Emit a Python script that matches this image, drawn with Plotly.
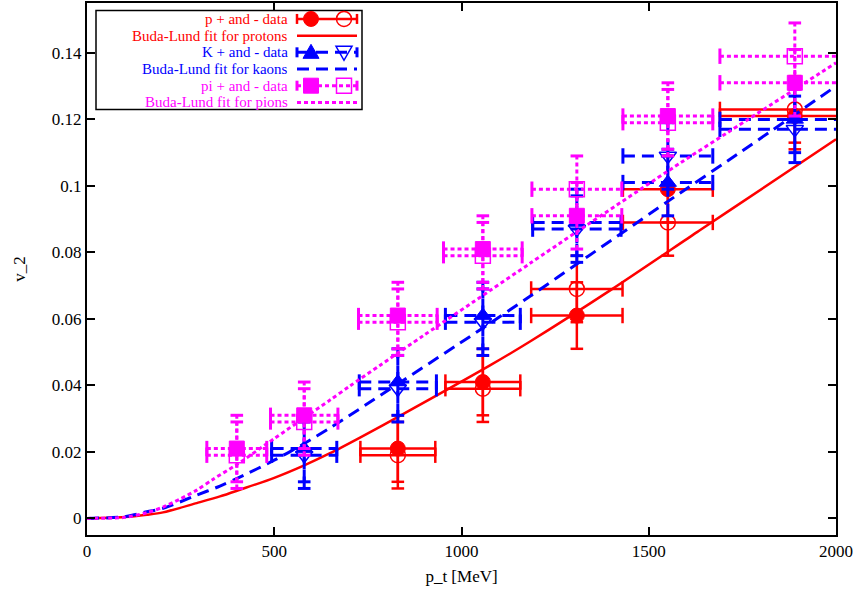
import plotly.graph_objects as go
import numpy as np

# ---------------- data ----------------
# protons
p_x = [830, 1057, 1308, 1551, 1890]
p_xerr = [100, 100, 122, 120, 200]
p_filled = [0.021, 0.041, 0.061, 0.099, 0.121]
p_open = [0.019, 0.039, 0.069, 0.089, 0.123]
p_yerr = [0.01, 0.01, 0.01, 0.01, 0.01]

# kaons
k_x = [580, 830, 1057, 1308, 1551, 1890]
k_xerr = [87, 103, 100, 118, 120, 200]
k_filled = [0.021, 0.041, 0.061, 0.089, 0.101, 0.120]
k_open = [0.019, 0.039, 0.059, 0.087, 0.109, 0.117]
k_yerr = [0.01, 0.01, 0.01, 0.01, 0.01, 0.01]

# pions
pi_x = [400, 580, 830, 1057, 1308, 1551, 1890]
pi_xerr = [80, 90, 105, 105, 120, 120, 200]
pi_filled = [0.021, 0.031, 0.061, 0.081, 0.091, 0.121, 0.131]
pi_open = [0.019, 0.029, 0.059, 0.079, 0.099, 0.119, 0.139]
pi_yerr = [0.01, 0.01, 0.01, 0.01, 0.01, 0.01, 0.01]

# Buda-Lund fit curves
fit_p_pt = [0, 100, 160, 203, 293, 355, 408, 500, 577, 649, 729, 827, 1076, 1183, 1400, 1629, 1717, 2000]
fit_p_v2 = [0, 0.0004, 0.0011, 0.0018, 0.0046, 0.0066, 0.0086, 0.0122, 0.0158, 0.0196, 0.0243, 0.0303,
            0.0460, 0.0532, 0.0688, 0.0861, 0.0927, 0.1140]
fit_k_pt = [0, 100, 160, 203, 293, 355, 408, 500, 577, 649, 729, 1067, 1183, 1308, 1583, 1717, 2000]
fit_k_v2 = [0, 0.0005, 0.0020, 0.0030, 0.0070, 0.0097, 0.0124, 0.0175, 0.0223, 0.0272, 0.0330, 0.0580,
            0.0668, 0.0765, 0.0978, 0.1080, 0.1300]
fit_pi_pt = [0, 70, 100, 160, 203, 248, 293, 337, 400, 500, 577, 649, 702, 782, 900, 1076, 1183, 1308, 1583, 1717, 2000]
fit_pi_v2 = [0, 0.0001, 0.0003, 0.0017, 0.0034, 0.0058, 0.0085, 0.0118, 0.0162, 0.0240, 0.0300, 0.0356,
             0.0398, 0.0460, 0.0551, 0.0685, 0.0767, 0.0862, 0.1068, 0.1165, 0.1370]

x_ticks = [0, 500, 1000, 1500, 2000]
x_tick_text = ["0", "500", "1000", "1500", "2000"]
y_ticks = [0, 0.02, 0.04, 0.06, 0.08, 0.10, 0.12, 0.14]
y_tick_text = ["0", "0.02", "0.04", "0.06", "0.08", "0.1", "0.12", "0.14"]

legend_labels = ["p + and - data", "Buda-Lund fit for protons",
                 "K + and - data", "Buda-Lund fit for kaons",
                 "pi + and - data", "Buda-Lund fit for pions"]

RED = "#ff0000"
BLUE = "#0000ff"
MAG = "#ff00ff"
FONT = "Liberation Serif"
DASH_K = "12px,7px"
DASH_PI = "4px,3px"

# plot-area geometry (page pixels)
L, R, T, B = 87, 836, 1, 535
W, H = 855, 592

fig = go.Figure()


def add_errorbars(x, y, xerr, yerr, color, dash, width):
    x = np.asarray(x, float)
    y = np.asarray(y, float)
    xe = np.asarray(xerr, float)
    ye = np.asarray(yerr, float)
    hx, hy, vx, vy = [], [], [], []
    for xi, yi, exi, eyi in zip(x, y, xe, ye):
        hx += [xi - exi, xi + exi, None]
        hy += [yi, yi, None]
        vx += [xi, xi, None]
        vy += [yi - eyi, yi + eyi, None]
    fig.add_trace(go.Scatter(x=hx + vx, y=hy + vy, mode="lines",
                             line=dict(color=color, width=width, dash=dash),
                             showlegend=False, hoverinfo="skip"))
    fig.add_trace(go.Scatter(x=np.concatenate([x - xe, x + xe]), y=np.concatenate([y, y]),
                             mode="markers",
                             marker=dict(symbol="line-ns", size=11,
                                         line=dict(color=color, width=width)),
                             showlegend=False, hoverinfo="skip"))
    fig.add_trace(go.Scatter(x=np.concatenate([x, x]), y=np.concatenate([y - ye, y + ye]),
                             mode="markers",
                             marker=dict(symbol="line-ew", size=9,
                                         line=dict(color=color, width=width)),
                             showlegend=False, hoverinfo="skip"))


def add_species(x, xerr, yfill, yopen, yerr, color, dash, sym_f, sym_o, fitx, fity, lw):
    add_errorbars(x, yfill, xerr, yerr, color, dash, lw)
    add_errorbars(x, yopen, xerr, yerr, color, dash, lw)
    fig.add_trace(go.Scatter(x=x, y=yfill, mode="markers",
                             marker=dict(symbol=sym_f, size=15, color=color,
                                         line=dict(color=color, width=1)),
                             showlegend=False))
    fig.add_trace(go.Scatter(x=x, y=yopen, mode="markers",
                             marker=dict(symbol=sym_o, size=15, color=color,
                                         line=dict(color=color, width=1.5)),
                             showlegend=False))
    fig.add_trace(go.Scatter(x=fitx, y=fity, mode="lines",
                             line=dict(color=color, width=lw, dash=dash, shape="spline", smoothing=0.8),
                             showlegend=False))


add_species(p_x, p_xerr, p_filled, p_open, p_yerr, RED, "solid", "circle", "circle-open",
            fit_p_pt, fit_p_v2, 2.5)
add_species(k_x, k_xerr, k_filled, k_open, k_yerr, BLUE, DASH_K, "triangle-up", "triangle-down-open",
            fit_k_pt, fit_k_v2, 3)
add_species(pi_x, pi_xerr, pi_filled, pi_open, pi_yerr, MAG, DASH_PI, "square", "square-open",
            fit_pi_pt, fit_pi_v2, 3)


# ---------------- custom key (gnuplot style: text right-aligned, sample on the right) -------------
def px_x(px):
    return (px - L) / (R - L)


def px_y(py):
    return (B - py) / (B - T)


shapes = []
annotations = []
shapes.append(dict(type="rect", xref="paper", yref="paper",
                   x0=px_x(96), x1=px_x(362), y0=px_y(108), y1=px_y(8.5),
                   line=dict(color="black", width=1.5), fillcolor="white", layer="above"))

row_colors = [RED, RED, BLUE, BLUE, MAG, MAG]
row_dash = ["solid", "solid", DASH_K, DASH_K, DASH_PI, DASH_PI]
row_kind = ["data", "fit", "data", "fit", "data", "fit"]
marker_kinds = {0: ("circle", "circle-open"), 2: ("tri-up", "tri-down-open"), 4: ("square", "square-open")}
s_x0, s_x1 = 297, 357
m_f, m_o = 311, 344

for i, lab in enumerate(legend_labels):
    cy = 17 + 16.75 * i
    col = row_colors[i]
    annotations.append(dict(xref="paper", yref="paper", x=px_x(289), y=px_y(cy),
                            xanchor="right", yanchor="middle", text=lab, showarrow=False,
                            height=16, valign="middle", borderpad=0,
                            font=dict(family=FONT, size=15, color=col)))
    lw = 2.5 if col == RED else 3
    shapes.append(dict(type="line", xref="paper", yref="paper", x0=px_x(s_x0), x1=px_x(s_x1),
                       y0=px_y(cy), y1=px_y(cy), line=dict(color=col, width=lw, dash=row_dash[i]),
                       layer="above"))
    if row_kind[i] == "data":
        for cx in (s_x0, s_x1):
            shapes.append(dict(type="line", xref="paper", yref="paper", xsizemode="pixel",
                               ysizemode="pixel", xanchor=px_x(cx), yanchor=px_y(cy),
                               x0=0, x1=0, y0=-5, y1=5, line=dict(color=col, width=lw),
                               layer="above"))
        kf, ko = marker_kinds[i]
        for kind, cx in ((kf, m_f), (ko, m_o)):
            base = dict(xref="paper", yref="paper", xsizemode="pixel", ysizemode="pixel",
                        xanchor=px_x(cx), yanchor=px_y(cy), layer="above")
            filled = not kind.endswith("open")
            fill = col if filled else "rgba(0,0,0,0)"
            lwm = 1 if filled else 1.5
            if kind.startswith("circle"):
                shapes.append(dict(base, type="circle", x0=-7.5, x1=7.5, y0=-7.5, y1=7.5,
                                   fillcolor=fill, line=dict(color=col, width=lwm)))
            elif kind.startswith("square"):
                shapes.append(dict(base, type="rect", x0=-7.5, x1=7.5, y0=-7.5, y1=7.5,
                                   fillcolor=fill, line=dict(color=col, width=lwm)))
            elif kind == "tri-up":
                shapes.append(dict(base, type="path", path="M -8,-6 L 8,-6 L 0,8 Z",
                                   fillcolor=fill, line=dict(color=col, width=lwm)))
            else:
                shapes.append(dict(base, type="path", path="M -8,6 L 8,6 L 0,-8 Z",
                                   fillcolor=fill, line=dict(color=col, width=lwm)))

fig.update_layout(
    width=W, height=H,
    margin=dict(l=L, r=W - R, t=T, b=H - B),
    plot_bgcolor="white", paper_bgcolor="white",
    font=dict(family=FONT, size=17, color="black"),
    showlegend=False,
    shapes=shapes,
    annotations=annotations,
    xaxis=dict(range=[0, 2000], tickvals=x_ticks, ticktext=x_tick_text,
               ticks="inside", ticklen=8, tickwidth=1.5, tickcolor="black",
               showline=True, linecolor="black", linewidth=2, mirror="ticks",
               showgrid=False, zeroline=False,
               title=dict(text="p_t [MeV]", font=dict(family=FONT, size=17), standoff=10)),
    yaxis=dict(range=[-0.005, 0.155], tickvals=y_ticks, ticktext=y_tick_text,
               ticks="inside", ticklen=8, tickwidth=1.5, tickcolor="black",
               showline=True, linecolor="black", linewidth=2, mirror="ticks",
               showgrid=False, zeroline=False,
               title=dict(text="v_2", font=dict(family=FONT, size=17), standoff=22)),
)

fig.write_html("out.html", config={"displayModeBar": False},
               post_script="document.body.style.margin='0px';")
